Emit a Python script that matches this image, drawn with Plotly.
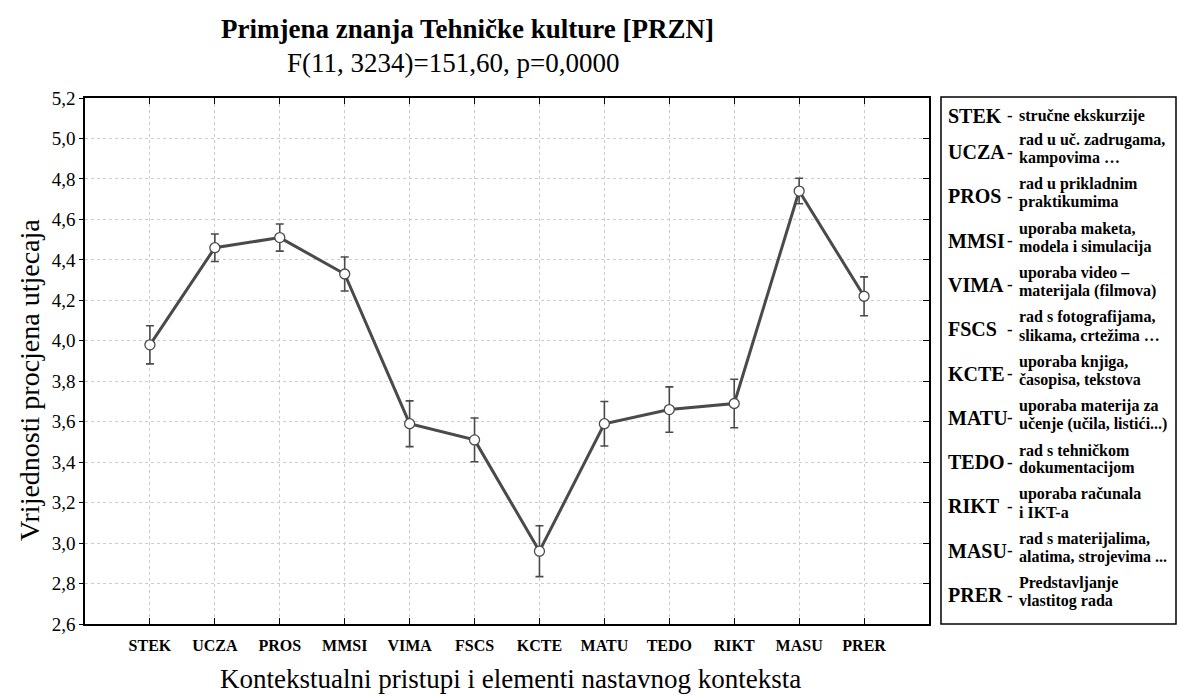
import plotly.graph_objects as go

# data
categories = ['STEK', 'UCZA', 'PROS', 'MMSI', 'VIMA', 'FSCS', 'KCTE', 'MATU', 'TEDO', 'RIKT', 'MASU', 'PRER']
means = [3.98, 4.46, 4.51, 4.33, 3.59, 3.51, 2.96, 3.59, 3.66, 3.69, 4.74, 4.22]
errors = [0.094, 0.068, 0.067, 0.084, 0.113, 0.108, 0.126, 0.11, 0.112, 0.12, 0.063, 0.096]
descriptions = [
    ['stručne ekskurzije'],
    ['rad u uč. zadrugama,', 'kampovima …'],
    ['rad u prikladnim', 'praktikumima'],
    ['uporaba maketa,', 'modela i simulacija'],
    ['uporaba video –', 'materijala (filmova)'],
    ['rad s fotografijama,', 'slikama, crtežima …'],
    ['uporaba knjiga,', 'časopisa, tekstova'],
    ['uporaba materija za', 'učenje (učila, listići...)'],
    ['rad s tehničkom', 'dokumentacijom'],
    ['uporaba računala', 'i IKT-a'],
    ['rad s materijalima,', 'alatima, strojevima ...'],
    ['Predstavljanje', 'vlastitog rada'],
]

FONT = 'Liberation Serif'
LINE = '#4a4a4a'
W, H = 1178, 695
# plot box in pixels
PL, PR, PT, PB = 85, 929, 98, 624
L, R, T, B = PL, W - PR, PT, H - PB
PW = PR - PL
PH = PB - PT


def px(x):
    return (x - PL) / PW


def py(y):
    return 1 - (y - PT) / PH


xs = list(range(len(categories)))

fig = go.Figure()
fig.add_trace(go.Scatter(
    x=xs, y=means, mode='lines+markers',
    line=dict(color=LINE, width=3),
    marker=dict(symbol='circle', size=10, color='white', line=dict(color=LINE, width=1.3)),
    error_y=dict(type='data', array=errors, visible=True, color=LINE, thickness=1.6, width=4),
    showlegend=False,
))
# invisible trace on the mirrored axes so they get drawn
fig.add_trace(go.Scatter(x=xs, y=means, xaxis='x2', yaxis='y2', mode='markers',
                         marker=dict(opacity=0), showlegend=False, hoverinfo='skip'))

grid = dict(showgrid=True, gridcolor='#cccccc', griddash='dot', gridwidth=1)

fig.update_layout(
    width=W, height=H,
    margin=dict(l=L, r=R, t=T, b=B),
    paper_bgcolor='white', plot_bgcolor='white',
    separators=',.',
    font=dict(family=FONT, color='black'),
    xaxis=dict(range=[-1, 12], tickvals=xs, ticktext=categories,
               tickfont=dict(family=FONT, size=16, color='black', weight='bold'),
               ticks='inside', ticklen=6, tickcolor='black', ticklabelstandoff=6,
               showline=True, linecolor='black', linewidth=1.5, zeroline=False, **grid),
    yaxis=dict(range=[2.6, 5.2], dtick=0.2, tickformat='.1f',
               tickfont=dict(family=FONT, size=19, color='black'),
               ticks='outside', ticklen=4, tickcolor='black',
               showline=True, linecolor='black', linewidth=1.5, zeroline=False, **grid),
    xaxis2=dict(range=[-1, 12], tickvals=xs, overlaying='x', side='top', showticklabels=False,
                ticks='inside', ticklen=6, tickcolor='black',
                showline=True, linecolor='black', linewidth=1.5, showgrid=False, zeroline=False),
    yaxis2=dict(range=[2.6, 5.2], dtick=0.2, overlaying='y', side='right', showticklabels=False,
                ticks='inside', ticklen=6, tickcolor='black',
                showline=True, linecolor='black', linewidth=1.5, showgrid=False, zeroline=False),
)


def note(text, x, y, size, **kw):
    fig.add_annotation(text=text, xref='paper', yref='paper', x=px(x), y=py(y),
                       yanchor='middle', showarrow=False, font=dict(family=FONT, size=size), **kw)


# titles
note('<b>Primjena znanja Tehničke kulture [PRZN]</b>', 467, 29, 27, xanchor='center')
note('F(11, 3234)=151,60, p=0,0000', 453, 63, 27, xanchor='center')
note('Kontekstualni pristupi i elementi nastavnog konteksta', 510, 679, 27, xanchor='center')
note('Vrijednosti procjena utjecaja', 29, 380, 28, xanchor='center', textangle=-90)

# legend box
fig.add_shape(type='rect', xref='paper', yref='paper', x0=px(941), x1=px(1176), y0=py(624), y1=py(97),
              line=dict(color='black', width=1.5), fillcolor='white')
for i, (abbr, lines) in enumerate(zip(categories, descriptions)):
    yc = 116 if i == 0 else 149 + (i - 1) * 44.3
    ya = yc if len(lines) == 1 else yc + 3
    note('<b>%s</b>' % abbr, 946, ya, 20, xanchor='left')
    note('<b>-</b>', 1010, ya, 17, xanchor='center')
    for k, text in enumerate(lines):
        dy = 0 if len(lines) == 1 else (-9 if k == 0 else 9)
        note('<b>%s</b>' % text, 1017, yc + dy, 16, xanchor='left')

# drop the default 8px page margin so the figure fills the window
fig.write_html('out.html', config={'displayModeBar': False},
               post_script="document.body.style.margin='0';document.body.style.overflow='hidden';")
